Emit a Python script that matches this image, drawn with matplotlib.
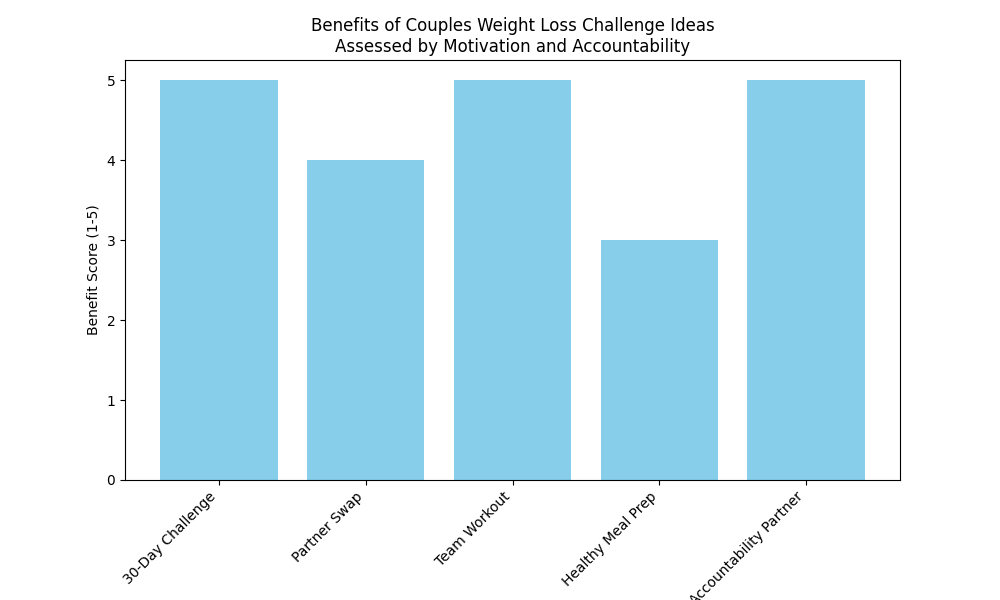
import matplotlib
matplotlib.use("Agg")
import matplotlib.pyplot as plt

categories = ["30-Day Challenge", "Partner Swap", "Team Workout", "Healthy Meal Prep", "Accountability Partner"]
scores = [5, 4, 5, 3, 5]

fig, ax = plt.subplots(figsize=(10, 6), dpi=100)
fig.subplots_adjust(left=0.125, right=0.9, top=0.9, bottom=0.2)
ax.bar(categories, scores, color="skyblue")
ax.set_ylabel("Benefit Score (1-5)")
ax.set_title("Benefits of Couples Weight Loss Challenge Ideas\nAssessed by Motivation and Accountability")
plt.setp(ax.get_xticklabels(), rotation=45, ha="right")
fig.savefig("out.png")
